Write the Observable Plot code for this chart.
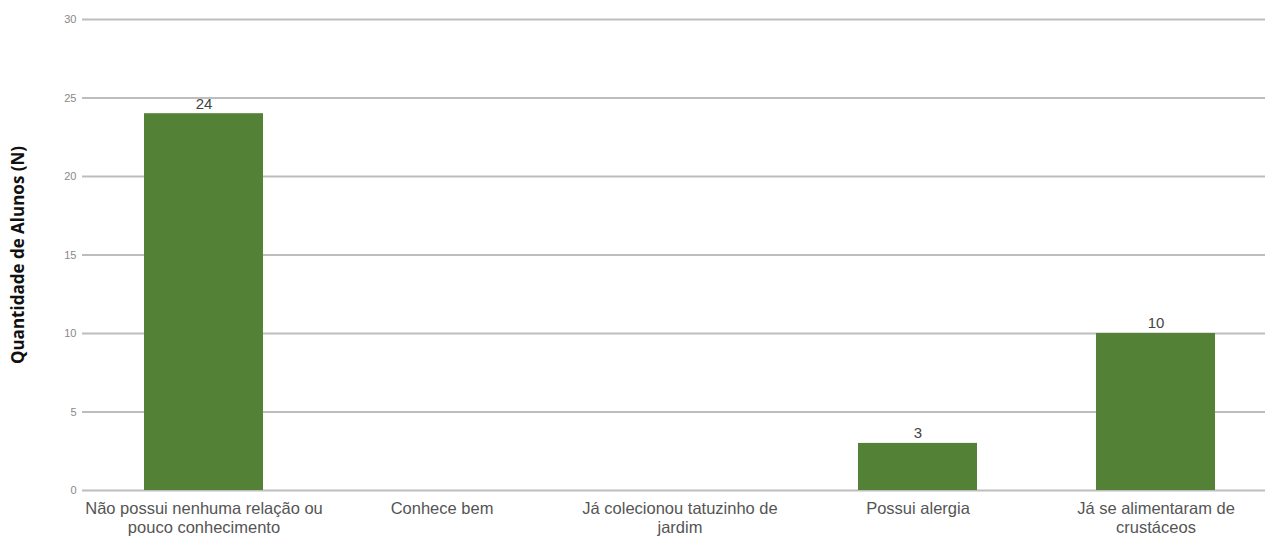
<!DOCTYPE html>
<html>
<head>
<meta charset="utf-8">
<script src="https://cdn.jsdelivr.net/npm/d3@7"></script>
<script src="https://cdn.jsdelivr.net/npm/@observablehq/plot@0.6"></script>
<style>
  html, body { margin: 0; padding: 0; background: #fff; }
  #chart svg { display: block; }
</style>
</head>
<body>
<div id="chart"></div>
<script>
const categories = [
  "Não possui nenhuma relação ou pouco conhecimento",
  "Conhece bem",
  "Já colecionou tatuzinho de jardim",
  "Possui alergia",
  "Já se alimentaram de crustáceos"
];
const values = [24, 0, 0, 3, 10];
const tickLabels = [
  "Não possui nenhuma relação ou\npouco conhecimento",
  "Conhece bem",
  "Já colecionou tatuzinho de\njardim",
  "Possui alergia",
  "Já se alimentaram de\ncrustáceos"
];
const yTicks = [0, 5, 10, 15, 20, 25, 30];
const yTitle = "Quantidade de Alunos (N)";

const data = categories.map((c, i) => ({category: c, value: values[i]}));
const labelOf = new Map(categories.map((c, i) => [c, tickLabels[i]]));

const chart = Plot.plot({
  width: 1265,
  height: 538,
  marginTop: 19,
  marginBottom: 48,
  marginLeft: 82,
  marginRight: 0,
  style: {fontFamily: "'Liberation Sans', Arial, sans-serif", background: "#fff"},
  x: {domain: categories, paddingInner: 0.5, paddingOuter: 0.23, align: 0.55, label: null},
  y: {domain: [0, 30], label: null},
  marks: [
    Plot.ruleY(yTicks, {stroke: "#bdbdbd", strokeWidth: 2}),
    Plot.barY(data, {x: "category", y: "value", fill: "#538135"}),
    Plot.text(data.filter(d => d.value > 0), {
      x: "category", y: "value", text: d => String(d.value),
      dy: -10, fontSize: 15, fill: "#444"
    }),
    Plot.axisX({
      tickSize: 0, tickPadding: 10, fontSize: 16.5, color: "#555",
      tickFormat: d => labelOf.get(d), lineHeight: 1.15, label: null
    }),
    Plot.axisY({
      ticks: yTicks, tickSize: 0, tickPadding: 6, fontSize: 11, color: "#888", label: null
    }),
    Plot.text([yTitle], {
      frameAnchor: "left", rotate: -90, dx: -64, textAnchor: "middle",
      fontWeight: "bold", fontSize: 17, fill: "#111",
      fontFamily: "'Open Sans', sans-serif"
    })
  ]
});
document.getElementById("chart").append(chart);
</script>
</body>
</html>
